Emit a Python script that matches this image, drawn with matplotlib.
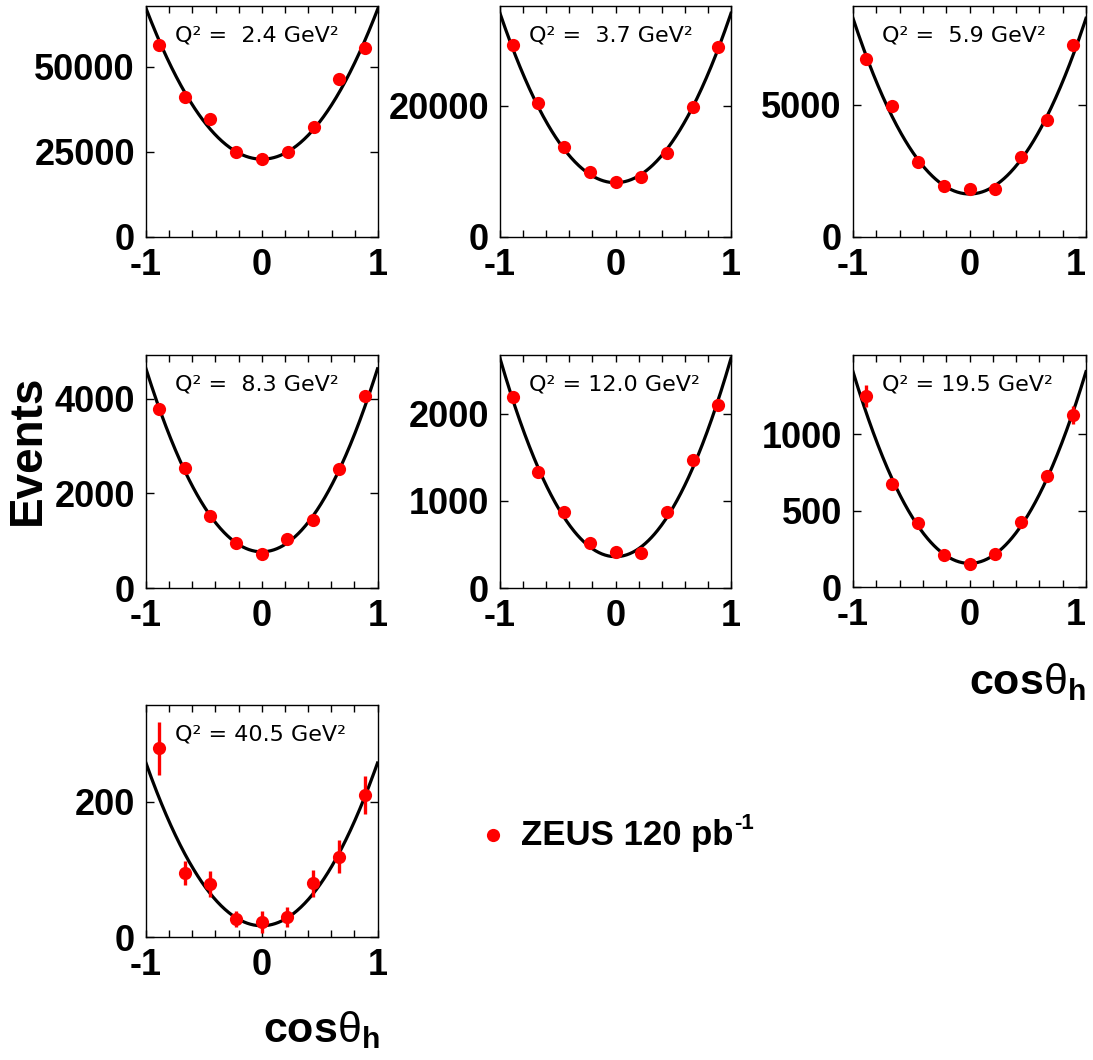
import numpy as np
import matplotlib
matplotlib.use("Agg")
import matplotlib.pyplot as plt

plt.rcParams['font.family'] = ['Liberation Sans', 'DejaVu Sans']
plt.rcParams['axes.unicode_minus'] = False
plt.rcParams['mathtext.fontset'] = 'custom'
plt.rcParams['mathtext.rm'] = 'Liberation Sans'
plt.rcParams['mathtext.it'] = 'Liberation Sans'
plt.rcParams['mathtext.bf'] = 'Liberation Sans:bold'

# ---------------- data ----------------
cos_centers = [-0.889, -0.667, -0.444, -0.222, 0.0, 0.222, 0.444, 0.667, 0.889]

q2_labels = ["Q² =  2.4 GeV²", "Q² =  3.7 GeV²", "Q² =  5.9 GeV²",
             "Q² =  8.3 GeV²", "Q² = 12.0 GeV²", "Q² = 19.5 GeV²",
             "Q² = 40.5 GeV²"]

events_q2_2p4 = [56380, 41180, 34530, 25000, 22850, 24820, 32350, 46380, 55590]
events_q2_3p7 = [29330, 20510, 13770, 9850, 8320, 9090, 12760, 19800, 28980]
events_q2_5p9 = [6735, 4962, 2847, 1925, 1800, 1811, 3014, 4430, 7278]
events_q2_8p3 = [3770, 2524, 1531, 954, 722, 1039, 1432, 2517, 4065]
events_q2_12p0 = [2199, 1337, 877, 521, 418, 406, 877, 1471, 2103]
events_q2_19p5 = [1250, 672, 421, 209, 150, 214, 427, 729, 1126]
events_q2_40p5 = [278.6, 95.2, 78.6, 26.5, 23.0, 29.5, 79.6, 118.8, 209.7]

errors_q2_19p5 = [70, 26, 20, 15, 12, 15, 20, 27, 60]
errors_q2_40p5 = [39, 17.7, 18.7, 11.8, 16, 14.7, 19.7, 24, 28.5]

# fit curve parameters: A + B*cos^2
fit_a = [22800, 8260, 1621, 764, 360, 155, 17]
fit_b = [44370, 25930, 6670, 3865, 2280, 1254, 240]

y_max = [67850, 35300, 8758, 4921, 2678, 1518, 342.6]
y_ticks = [[0, 25000, 50000], [0, 20000], [0, 5000], [0, 2000, 4000],
           [0, 1000, 2000], [0, 500, 1000], [0, 200]]
x_tick_labels = ["-1", "0", "1"]

events = [events_q2_2p4, events_q2_3p7, events_q2_5p9, events_q2_8p3,
          events_q2_12p0, events_q2_19p5, events_q2_40p5]
errors = [None, None, None, None, None, errors_q2_19p5, errors_q2_40p5]

# ---------------- layout ----------------
W, H = 1093, 1060
fig = plt.figure(figsize=(W / 100, H / 100), dpi=100)

def px_axes(x0, x1, y0, y1):
    return fig.add_axes([x0 / W, 1 - y1 / H, (x1 - x0) / W, (y1 - y0) / H])

boxes = [(146, 378, 6, 236.7), (500, 731, 6, 236.7), (853, 1086, 6, 236.7),
         (146, 377.5, 355, 588), (500, 731, 355, 588), (853, 1086, 355, 587.1),
         (146, 377.5, 705, 937.3)]

xc = np.linspace(-1, 1, 300)
for i, box in enumerate(boxes):
    ax = px_axes(*box)
    ax.plot(xc, fit_a[i] + fit_b[i] * xc ** 2, color='black', lw=2.3, zorder=3)
    if errors[i] is None:
        ax.plot(cos_centers, events[i], 'o', color='#ff0000', ms=9.5, mec='none',
                zorder=4, clip_on=False)
    else:
        ax.errorbar(cos_centers, events[i], yerr=errors[i], fmt='o', color='#ff0000',
                    ms=9.5, mec='none', elinewidth=2.4, capsize=0, zorder=4)
    ax.set_xlim(-1, 1)
    ax.set_ylim(0, y_max[i])
    ax.set_xticks([-1, 0, 1])
    ax.set_xticklabels(x_tick_labels)
    ax.set_xticks(np.arange(-1, 1.01, 0.2), minor=True)
    ax.set_yticks(y_ticks[i])
    ax.tick_params(axis='both', which='both', direction='in', top=True, right=True,
                   width=1.0, labelsize=26, pad=8)
    ax.tick_params(axis='x', which='major', length=5)
    ax.tick_params(axis='x', which='minor', length=5)
    ax.tick_params(axis='y', which='major', length=6)
    for lab in ax.get_xticklabels() + ax.get_yticklabels():
        lab.set_fontweight('bold')
    if box[1] > 1000:
        ax.get_xticklabels()[-1].set_horizontalalignment('right')
        ax.get_xticklabels()[-1].set_x(1.0)
    for sp in ax.spines.values():
        sp.set_linewidth(1.0)
    ax.text(0.125, 0.874, q2_labels[i], transform=ax.transAxes, fontsize=16,
            family='DejaVu Sans', ha='left', va='center', zorder=5)

# axis titles
fig.text(28 / W, 1 - 450 / H, "Events", rotation=90, fontsize=33, fontweight='bold',
         ha='center', va='center')
fig.text(1086 / W, 1 - 682 / H, r"$\mathbf{cos}\theta_{\mathbf{h}}$", fontsize=31,
         ha='right', va='center')
fig.text(380 / W, 1 - 1030 / H, r"$\mathbf{cos}\theta_{\mathbf{h}}$", fontsize=31,
         ha='right', va='center')

# legend
fig.lines.append(plt.Line2D([493 / W], [1 - 835 / H], marker='o', color='#ff0000',
                            ms=9.5, mec='none', transform=fig.transFigure))
t = fig.text(521 / W, 1 - 836 / H, "ZEUS 120 pb", fontsize=25,
             fontweight='bold', ha='left', va='center')
fig.canvas.draw()
bb = t.get_window_extent()
fig.text((bb.x1 + 1) / W, (bb.y1 - 4) / H, "-1", fontsize=16, fontweight='bold',
         ha='left', va='center')

fig.savefig("out.png", dpi=100)
